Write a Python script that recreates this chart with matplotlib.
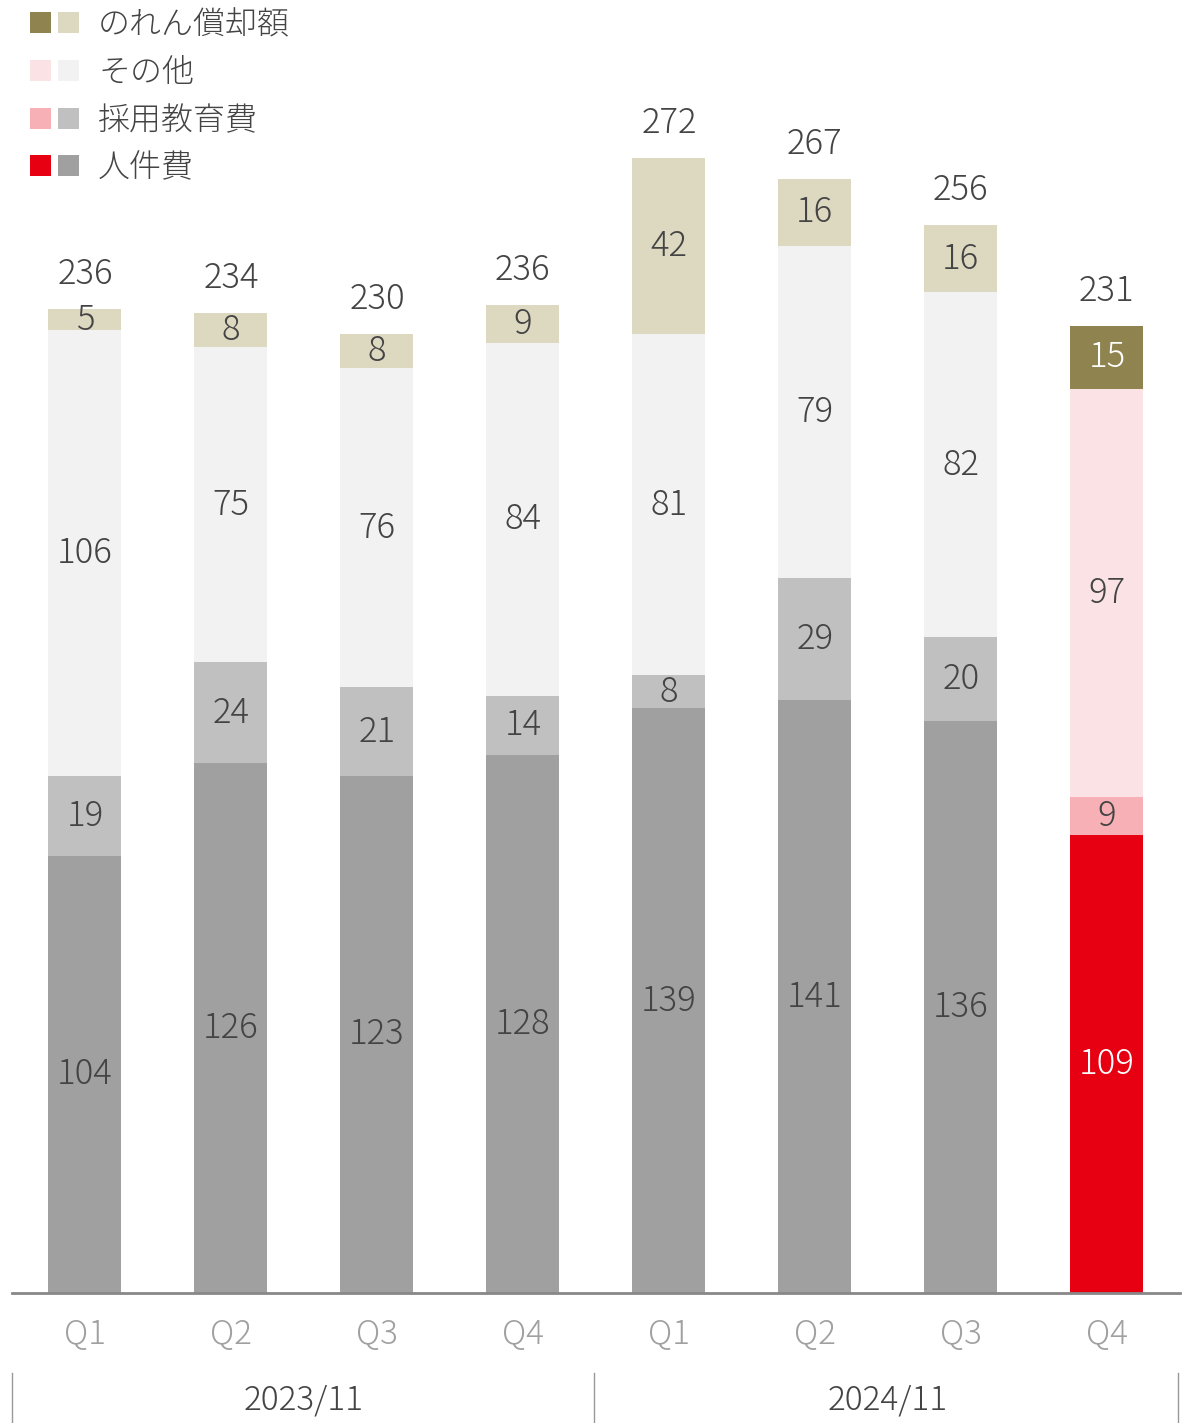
import matplotlib.pyplot as plt
from matplotlib.patches import Rectangle
from matplotlib.lines import Line2D

plt.rcParams['font.family'] = ['Noto Sans CJK JP', 'DejaVu Sans']
plt.rcParams['font.weight'] = 'light'

# data (億円)
quarters = ['Q1', 'Q2', 'Q3', 'Q4', 'Q1', 'Q2', 'Q3', 'Q4']
years = ['2023/11', '2024/11']
personnel = [104, 126, 123, 128, 139, 141, 136, 109]
recruit = [19, 24, 21, 14, 8, 29, 20, 9]
other = [106, 75, 76, 84, 81, 79, 82, 97]
goodwill = [5, 8, 8, 9, 42, 16, 16, 15]
totals = [236, 234, 230, 236, 272, 267, 256, 231]
series_names = ['人件費', '採用教育費', 'その他', 'のれん償却額']

# colours: grey for past quarters, highlight for latest
grey = ['#a0a0a0', '#c0c0c0', '#f2f2f2', '#ddd8c0']
hilite = ['#e60012', '#f7b1b6', '#fbe3e5', '#8f844f']
grey_txt = ['#444444', '#444444', '#444444', '#444444']
hilite_txt = ['#ffffff', '#444444', '#444444', '#ffffff']

fig = plt.figure(figsize=(11.99, 14.23), dpi=100)
ax = fig.add_axes([0.01, 0.0914, 0.974, 0.9086])

series = [personnel, recruit, other, goodwill]
n = len(quarters)
x = list(range(n))
bottoms = [0] * n
for s, vals in enumerate(series):
    cols = [grey[s]] * (n - 1) + [hilite[s]]
    tcols = [grey_txt[s]] * (n - 1) + [hilite_txt[s]]
    ax.bar(x, vals, bottom=bottoms, width=0.5, color=cols, linewidth=0)
    for i in x:
        ax.text(i, bottoms[i] + vals[i] / 2, str(vals[i]), ha='center', va='center',
                fontsize=25, color=tcols[i])
    bottoms = [b + v for b, v in zip(bottoms, vals)]

# totals above bars
for i in x:
    ax.text(i, bottoms[i] + 4, str(totals[i]), ha='center', va='bottom',
            fontsize=25, color='#444444')

ax.set_xlim(-0.5, 7.5)
ax.set_ylim(0, 307.5)
for sp in ['top', 'right', 'left']:
    ax.spines[sp].set_visible(False)
ax.spines['bottom'].set_color('#888888')
ax.spines['bottom'].set_linewidth(2)
ax.set_yticks([])
ax.set_xticks(x)
ax.set_xticklabels(quarters, fontsize=24, color='#a0a0a0')
ax.tick_params(axis='x', length=0, pad=18)

# year labels and separators
for k, yr in enumerate(years):
    fig.text((12 + 584 * k + 292) / 1199, 1 - 1400 / 1423, yr, ha='center', va='center',
             fontsize=24, color='#444444')
for px in [12, 594, 1178]:
    fig.add_artist(Line2D([px / 1199, px / 1199], [1 - 1373 / 1423, 0],
                          color='#999999', linewidth=1))

# legend drawn by hand
rows_y = [22, 70, 118, 165]
for r, s in enumerate([3, 2, 1, 0]):
    yc = 1 - rows_y[r] / 1423
    h = 21 / 1423
    fig.add_artist(Rectangle((30 / 1199, yc - h / 2), 21 / 1199, h,
                             color=hilite[s], transform=fig.transFigure, linewidth=0))
    fig.add_artist(Rectangle((58 / 1199, yc - h / 2), 21 / 1199, h,
                             color=grey[s], transform=fig.transFigure, linewidth=0))
    fig.text(98 / 1199, yc - 3 / 1423, series_names[s], ha='left', va='center',
             fontsize=23, color='#444444')

fig.savefig('out.png', dpi=100)
